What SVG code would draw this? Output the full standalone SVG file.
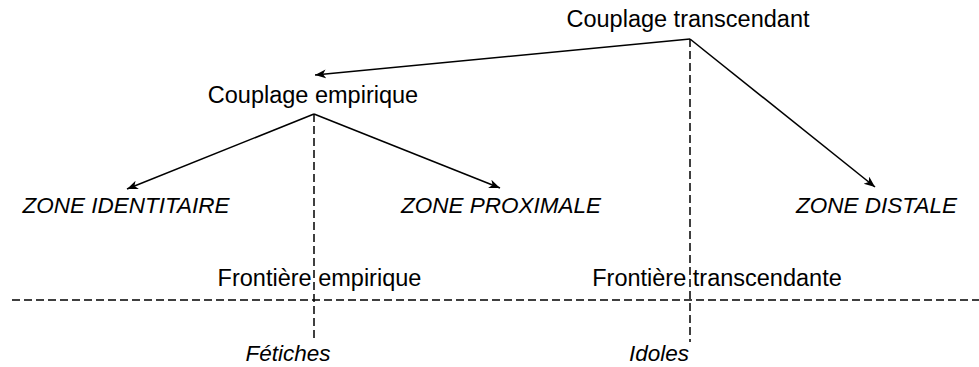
<svg xmlns="http://www.w3.org/2000/svg" width="979" height="367" viewBox="0 0 979 367">
<style>
.t{font-family:"Liberation Sans",Arial,sans-serif;font-size:23.5px;fill:#000;text-anchor:middle}
.i{font-style:italic;font-size:22.5px}
.a{stroke:#000;stroke-width:1.6;fill:none}
.d{stroke:#000;stroke-width:1.5;fill:none;stroke-dasharray:8 4}
</style>
<defs>
<marker id="ah" markerUnits="userSpaceOnUse" markerWidth="12" markerHeight="10" refX="11" refY="4.5" orient="auto">
<path d="M0,0 L11,4.5 L0,9 L3,4.5 Z" fill="#000"/>
</marker>
</defs>
<g id="connectors">
<line class="a" x1="690" y1="39" x2="315" y2="75" marker-end="url(#ah)"/>
<line class="a" x1="690" y1="39" x2="875" y2="187" marker-end="url(#ah)"/>
<line class="a" x1="314" y1="114" x2="127" y2="189" marker-end="url(#ah)"/>
<line class="a" x1="314" y1="114" x2="500" y2="188" marker-end="url(#ah)"/>
<line class="d" x1="690" y1="39" x2="690" y2="342"/>
<line class="d" x1="314" y1="114" x2="314" y2="338"/>
<line class="d" x1="12" y1="300" x2="979" y2="300"/>
</g>
<g id="couplage-transcendant"><text class="t" x="688" y="27">Couplage transcendant</text></g>
<g id="couplage-empirique"><text class="t" x="313" y="103">Couplage empirique</text></g>
<g id="zone-identitaire"><text class="t i" x="126" y="213">ZONE IDENTITAIRE</text></g>
<g id="zone-proximale"><text class="t i" x="501" y="213">ZONE PROXIMALE</text></g>
<g id="zone-distale"><text class="t i" x="876.5" y="213">ZONE DISTALE</text></g>
<g id="frontiere-empirique"><text class="t" x="319.5" y="286">Frontière empirique</text></g>
<g id="frontiere-transcendante"><text class="t" x="717" y="286">Frontière transcendante</text></g>
<g id="fetiches"><text class="t i" x="288" y="361">Fétiches</text></g>
<g id="idoles"><text class="t i" x="659" y="361">Idoles</text></g>
</svg>
